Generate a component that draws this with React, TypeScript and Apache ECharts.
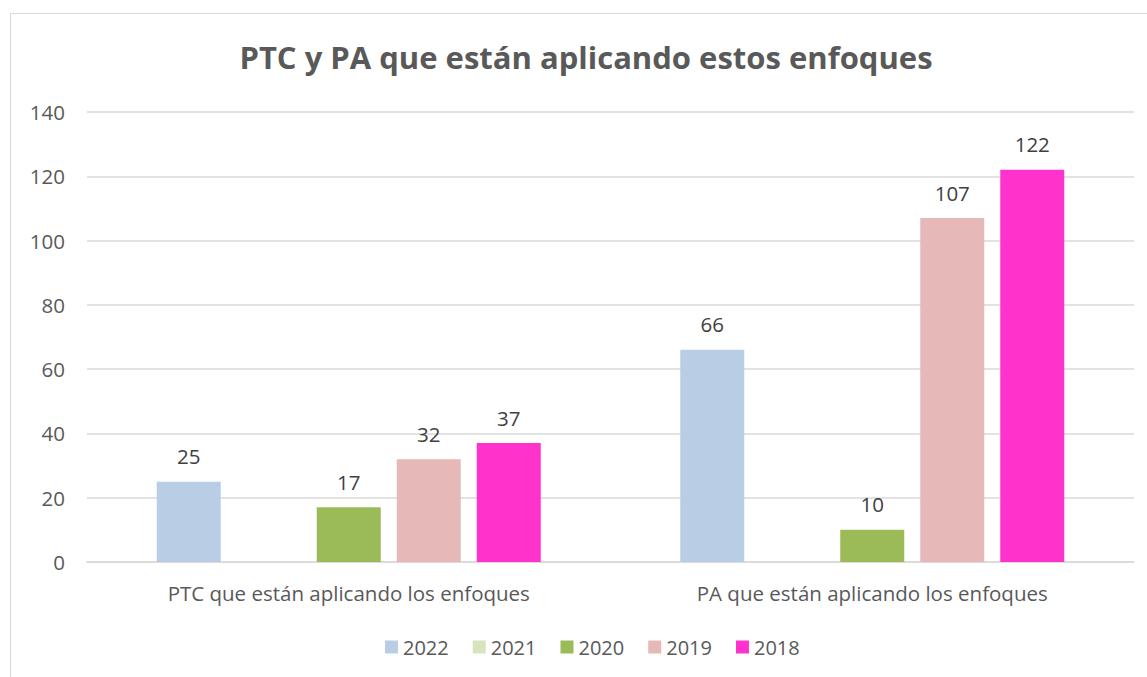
import React, { useEffect, useRef } from "react";
import * as echarts from "echarts";

const categories = ["PTC que están aplicando los enfoques", "PA que están aplicando los enfoques"];
const seriesNames = ["2022", "2021", "2020", "2019", "2018"];
const colors = ["#B9CDE5", "#D7E4BD", "#9BBB59", "#E6B9B8", "#FF33CC"];
const v2022 = [25, 66];
const v2021: (number | string)[] = ["-", "-"];
const v2020 = [17, 10];
const v2019 = [32, 107];
const v2018 = [37, 122];
const values = [v2022, v2021, v2020, v2019, v2018];
const titleText = "PTC y PA que están aplicando estos enfoques";

const FONT = "'Open Sans', 'Liberation Sans', sans-serif";

export default function App() {
  const ref = useRef<HTMLDivElement>(null);
  useEffect(() => {
    if (!ref.current) return;
    const chart = echarts.init(ref.current, undefined, { renderer: "svg" });
    chart.setOption({
      animation: false,
      backgroundColor: "transparent",
      title: {
        text: titleText,
        left: 581,
        top: 36,
        textAlign: "center",
        textStyle: { fontFamily: FONT, fontSize: 31, fontWeight: "bold", color: "#595959" },
      },
      legend: {
        data: seriesNames,
        left: 380,
        top: 632,
        itemWidth: 13,
        itemHeight: 13,
        itemGap: 24,
        icon: "rect",
        textStyle: { fontFamily: FONT, fontSize: 20, color: "#595959" },
      },
      grid: { left: 87, right: 13, top: 112, bottom: 677 - 562, containLabel: false },
      xAxis: {
        type: "category",
        data: categories,
        axisLine: { lineStyle: { color: "#D9D9D9", width: 1.5 } },
        axisTick: { show: false },
        axisLabel: { fontFamily: FONT, fontSize: 20.5, color: "#595959", margin: 20 },
      },
      yAxis: {
        type: "value",
        min: 0,
        max: 140,
        interval: 20,
        axisLine: { show: false },
        axisTick: { show: false },
        splitLine: { lineStyle: { color: "#D9D9D9", width: 1.5 } },
        axisLabel: { fontFamily: FONT, fontSize: 20.5, color: "#595959", margin: 22 },
      },
      series: seriesNames.map((name, i) => ({
        name,
        type: "bar",
        data: values[i],
        barWidth: 64,
        barGap: "25%",
        barCategoryGap: "26.6%",
        itemStyle: { color: colors[i] },
        label: {
          show: true,
          position: "top",
          distance: 15,
          fontFamily: FONT,
          fontSize: 20.5,
          color: "#404040",
        },
      })),
    });
    return () => chart.dispose();
  }, []);
  return (
    <div style={{ position: "fixed", left: 0, top: 0, width: 1147, height: 677, overflow: "hidden", background: "#fff" }}>
      <div style={{ position: "absolute", left: 10, top: 13, width: 1200, height: 700, border: "1px solid #D9D9D9", boxSizing: "border-box" }} />
      <div ref={ref} style={{ position: "absolute", left: 0, top: 0, width: 1147, height: 677 }} />
    </div>
  );
}
